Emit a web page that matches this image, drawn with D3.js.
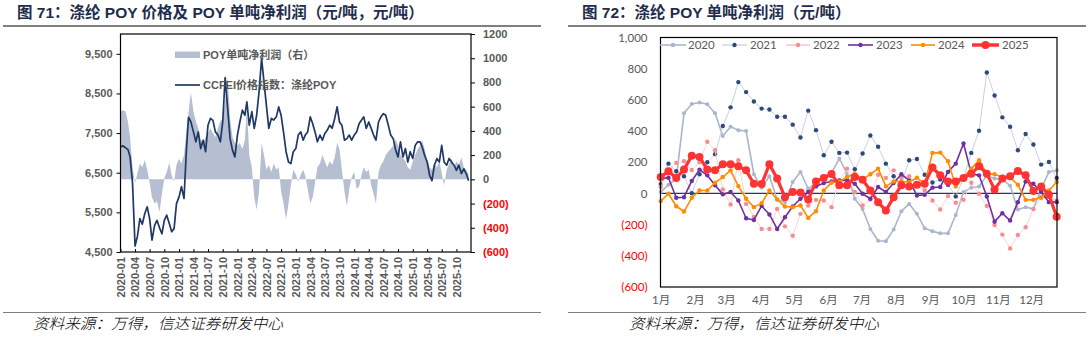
<!DOCTYPE html>
<html><head><meta charset="utf-8">
<script src="https://cdn.jsdelivr.net/npm/d3@7/dist/d3.min.js"></script>
<style>
body{margin:0;background:#fff;}
svg{display:block;}
text{font-family:"Liberation Sans","Noto Sans CJK SC",sans-serif;}
</style></head><body>
<svg id="c" width="1088" height="337"></svg>
<script>
// ---------- Figure 71 data (semi-monthly samples, 2020-01 .. 2025-12) ----------
const priceValues = [7150,7180,7130,7090,6900,6250,4650,4900,5340,5200,5470,5640,5340,4800,5170,5300,5110,4960,5300,5430,5220,5010,5090,5720,5890,6150,5850,7070,7900,7780,7530,7280,7530,7110,7320,7030,7700,7870,7820,7530,7450,7280,7780,8900,8120,7360,7070,6900,7450,7780,8080,7950,8290,7700,8040,7620,7950,8540,9380,8790,8200,7620,7870,7830,7910,8160,7950,7530,7030,6770,6730,7030,7110,7450,7530,7320,7450,7530,7910,7740,7530,7280,7450,7320,7490,7570,7700,7620,7870,8160,7780,7700,7320,7360,7450,7320,7450,7530,7740,7830,7910,7620,7780,7620,7450,7320,7780,7910,7990,7950,7700,7450,7360,7070,6900,7280,6900,7110,6770,7030,6860,7190,7280,7280,7150,6940,6770,6440,6300,6690,6860,6770,7190,6770,6690,6860,6770,6690,6560,6690,6480,6600,6480,6300];
const profitValues = [560,570,560,480,350,100,-30,50,130,100,160,80,-30,-150,-200,-180,-270,-120,10,60,140,30,-20,120,170,130,200,400,550,720,560,480,420,330,300,350,380,420,380,350,420,480,500,640,850,500,350,300,280,300,250,320,600,200,100,-150,-250,-100,300,200,80,120,60,130,80,100,-100,-200,-330,-200,-50,80,40,-20,40,80,30,-80,-200,-150,-30,100,130,200,150,100,150,120,180,300,250,80,-100,-220,-80,20,60,-80,-60,40,100,60,80,-50,-120,-200,60,120,150,200,230,250,280,330,280,200,180,150,100,80,150,200,250,280,320,250,160,100,80,130,100,150,50,-50,80,130,170,100,150,120,180,100,80,40];
// sample dates: 1st and 16th of each month starting 2020-01
const priceDates = priceValues.map((_, k) => new Date(2020, Math.floor(k / 2), k % 2 ? 16 : 1));
const leftTicks = [4500, 5500, 6500, 7500, 8500, 9500];
const rightTicks = [-600, -400, -200, 0, 200, 400, 600, 800, 1000, 1200];

// ---------- Figure 72 data (weekly, 52 points per year) ----------
const years = ["2020", "2021", "2022", "2023", "2024", "2025"];
const y2020 = [9,55,95,514,574,583,572,514,368,428,406,400,123,37,110,-39,-56,73,138,30,70,110,130,224,127,-34,-100,-228,-303,-307,-232,-114,-67,-131,-224,-243,-256,-256,-138,9,37,45,116,95,90,50,-103,-88,-99,30,138,148];
const y2021 = [60,191,142,110,2,123,200,252,432,552,714,650,590,544,538,492,492,441,359,531,406,245,331,260,262,155,256,372,299,191,110,60,213,221,120,70,90,56,-19,100,260,402,776,628,488,428,277,381,314,185,202,99];
const y2022 = [41,150,196,206,150,200,331,277,26,-71,213,-67,-150,-228,-228,-99,-211,-271,-131,-77,-41,-45,-88,84,159,9,-77,-39,120,99,148,100,110,60,20,-45,-103,-17,-60,-41,69,-2,-80,-202,-264,-353,-267,-217,-100,-30,-20,-45];
const y2023 = [95,101,-28,-24,80,153,116,52,-6,9,-45,-159,-170,-80,-135,-228,-153,-84,-34,9,45,67,77,84,84,62,-2,-34,41,9,67,123,84,-13,-9,37,41,138,191,320,127,116,-20,-181,-127,-174,-56,77,62,9,-56,-56];
const y2024 = [-49,-2,-82,-116,-28,19,19,69,105,148,47,-34,-88,-62,19,-39,-84,-88,-77,-157,-114,19,69,77,105,127,90,123,159,45,77,77,73,101,62,260,262,206,45,105,159,213,127,123,105,101,56,-41,-41,-24,19,73];
const y2025 = [105,142,99,153,241,234,153,148,187,187,174,148,62,60,187,95,-24,9,6,-39,77,99,125,52,52,105,88,19,-56,-110,-24,52,45,56,62,166,116,77,77,99,127,174,127,26,95,110,144,116,15,45,-9,-150];
const yearValues = [y2020, y2021, y2022, y2023, y2024, y2025];
const weekDates = y2025.map((_, i) => new Date(2025, 0, 1 + 7 * i));
const rTicks72 = [-600, -400, -200, 0, 200, 400, 600, 800, 1000];

const styles = [
  {line: "#aab6cc", lw: 1.6, dot: "#aab6cc", r: 2},
  {line: "#c9d1df", lw: 1, dot: "#2f4a7a", r: 2.2},
  {line: "#fbd3d6", lw: 1, dot: "#f78d93", r: 2.2},
  {line: "#7030a0", lw: 1.6, dot: "#7030a0", r: 2.2},
  {line: "#ff8c00", lw: 1.6, dot: "#ff8c00", r: 2.2},
  {line: "#ff3333", lw: 3.2, dot: "#ff3333", r: 4}
];

const svg = d3.select("#c");
const GRAY = "#595959", RED = "#ff0000", NAVY = "#1f3864", AREA = "#b5bfd1";

// ---------- header / footer decorations ----------
function frame(x0, x1, title, srcX) {
  svg.append("text").attr("x", x0 + 2).attr("y", 18).attr("font-size", 15.5).attr("font-weight", "bold")
    .attr("fill", "#1f2d4d").text(title);
  svg.append("line").attr("x1", x0 - 12).attr("x2", x1).attr("y1", 26).attr("y2", 26)
    .attr("stroke", "#7f7f7f").attr("stroke-width", 2);
  svg.append("line").attr("x1", x0 - 12).attr("x2", x1).attr("y1", 312.5).attr("y2", 312.5)
    .attr("stroke", "#7f7f7f").attr("stroke-width", 1);
  svg.append("text").attr("x", srcX).attr("y", 329).attr("font-size", 15).attr("font-style", "italic")
    .attr("fill", "#000").attr("textLength", 250).attr("lengthAdjust", "spacingAndGlyphs")
    .style("font-family", "'Noto Sans CJK SC',sans-serif").style("font-weight", 300)
    .text("资料来源：万得，信达证券研发中心");
}
frame(15, 541, "图 71：涤纶 POY 价格及 POY 单吨净利润（元/吨，元/吨）", 33);
frame(580, 1086, "图 72：涤纶 POY 单吨净利润（元/吨）", 629);

// ---------- Figure 71 ----------
{
  const L = 120.5, R = 471, T = 34, B = 252;
  const x = d3.scaleTime().domain([new Date(2020, 0, 1), new Date(2025, 11, 31)]).range([L, R]);
  const yL = d3.scaleLinear().domain([4500, 10000]).range([B, T]);
  const yR = d3.scaleLinear().domain([-600, 1200]).range([B, T]);

  const area = d3.area().x((d, i) => x(priceDates[i])).y0(yR(0)).y1(d => yR(d));
  svg.append("path").datum(profitValues).attr("d", area).attr("fill", AREA);

  const line = d3.line().x((d, i) => x(priceDates[i])).y(d => yL(d));
  svg.append("path").datum(priceValues).attr("d", line).attr("fill", "none")
    .attr("stroke", NAVY).attr("stroke-width", 1.7).attr("stroke-linejoin", "round");

  svg.append("rect").attr("x", L).attr("y", T).attr("width", R - L).attr("height", B - T)
    .attr("fill", "none").attr("stroke", "#000").attr("stroke-width", 1.2);

  // left axis
  const gl = svg.append("g").attr("transform", `translate(${L},0)`)
    .call(d3.axisLeft(yL).tickValues(leftTicks).tickFormat(d3.format(",")).tickSize(4).tickPadding(4));
  gl.select(".domain").remove();
  gl.selectAll("line").attr("stroke", "#000");
  gl.selectAll("text").attr("font-size", 11).attr("font-weight", "bold").attr("fill", GRAY)
    .style("font-family", "'Liberation Sans',sans-serif");

  // right axis
  const gr = svg.append("g").attr("transform", `translate(${R},0)`)
    .call(d3.axisRight(yR).tickValues(rightTicks).tickFormat(d => d < 0 ? `(${-d})` : d).tickSize(4).tickPadding(8));
  gr.select(".domain").remove();
  gr.selectAll("line").attr("stroke", "#000");
  gr.selectAll("text").attr("font-size", 11).attr("font-weight", "bold")
    .attr("fill", d => d < 0 ? RED : GRAY).style("font-family", "'Liberation Sans',sans-serif");

  // x axis
  const gx = svg.append("g").attr("transform", `translate(0,${B})`)
    .call(d3.axisBottom(x).ticks(d3.timeMonth.every(3)).tickFormat(d3.timeFormat("%Y-%m")).tickSize(-3));
  gx.select(".domain").remove();
  gx.selectAll("line").attr("stroke", "#000");
  gx.selectAll("text").attr("font-size", 11).attr("font-weight", "bold").attr("fill", GRAY)
    .style("font-family", "'Liberation Sans',sans-serif")
    .attr("text-anchor", "end").attr("transform", "rotate(-90)")
    .attr("x", -5).attr("y", 0).attr("dy", "0.35em");

  // legend
  svg.append("rect").attr("x", 175).attr("y", 51.5).attr("width", 25).attr("height", 6.5).attr("fill", AREA);
  svg.append("text").attr("x", 203).attr("y", 58.5).attr("font-size", 11).attr("font-weight", "bold")
    .attr("fill", GRAY).text("POY单吨净利润（右）");
  svg.append("line").attr("x1", 175).attr("x2", 200).attr("y1", 85).attr("y2", 85)
    .attr("stroke", NAVY).attr("stroke-width", 1.7);
  svg.append("text").attr("x", 203).attr("y", 89).attr("font-size", 11).attr("font-weight", "bold")
    .attr("fill", GRAY).text("CCFEI价格指数：涤纶POY");
}

// ---------- Figure 72 ----------
{
  const L = 660.5, R = 1057, T = 37.5, B = 287;
  const x = d3.scaleTime().domain([weekDates[0], weekDates[weekDates.length - 1]]).range([660.7, 1056.7]);
  const y = d3.scaleLinear().domain([-600, 1000]).range([B, T]);
  const FONT = "'Lato','Liberation Sans',sans-serif";

  // y labels
  const gy = svg.append("g").attr("transform", `translate(${L},0)`)
    .call(d3.axisLeft(y).tickValues(rTicks72).tickFormat(d => d < 0 ? `(${-d})` : d3.format(",")(d)).tickSize(0).tickPadding(13));
  gy.select(".domain").remove();
  gy.selectAll("text").attr("font-size", 11.5).attr("fill", d => d < 0 ? RED : GRAY).style("font-family", FONT);

  // x labels
  const gx = svg.append("g").attr("transform", `translate(0,${B})`)
    .call(d3.axisBottom(x).ticks(d3.timeMonth.every(1)).tickFormat(d => (d.getMonth() + 1) + "月").tickSize(0).tickPadding(9));
  gx.select(".domain").remove();
  gx.selectAll("text").attr("font-size", 11.5).attr("fill", GRAY)
    .style("font-family", "'Lato','Noto Sans CJK SC',sans-serif");

  // zero line
  svg.append("line").attr("x1", L).attr("x2", R).attr("y1", y(0)).attr("y2", y(0))
    .attr("stroke", NAVY).attr("stroke-width", 1.3);

  const line = d3.line().x((d, i) => x(weekDates[i])).y(d => y(d));
  yearValues.forEach((vals, s) => {
    const st = styles[s];
    svg.append("path").datum(vals).attr("d", line).attr("fill", "none")
      .attr("stroke", st.line).attr("stroke-width", st.lw).attr("stroke-linejoin", "round");
    svg.append("g").selectAll("circle").data(vals).join("circle")
      .attr("cx", (d, i) => x(weekDates[i])).attr("cy", d => y(d)).attr("r", st.r).attr("fill", st.dot);
  });

  svg.append("rect").attr("x", L).attr("y", T).attr("width", R - L).attr("height", B - T)
    .attr("fill", "none").attr("stroke", "#000").attr("stroke-width", 1.2);

  // legend
  const legX = [[660, 686, 688], [722, 747, 750], [786, 810, 813], [848, 873, 876], [911, 935, 938], [972, 999, 1002]];
  years.forEach((yr, s) => {
    const st = styles[s];
    const [a, b, tx] = legX[s];
    svg.append("line").attr("x1", a).attr("x2", b).attr("y1", 45).attr("y2", 45)
      .attr("stroke", s === 1 ? "#dde3ec" : st.line).attr("stroke-width", s === 5 ? 3.5 : (s === 1 || s === 2 ? 2 : st.lw));
    svg.append("circle").attr("cx", (a + b) / 2).attr("cy", 45).attr("r", s === 5 ? 4 : 2.2).attr("fill", st.dot);
    svg.append("text").attr("x", tx).attr("y", 49).attr("font-size", 11.5).attr("fill", GRAY)
      .style("font-family", FONT).text(yr);
  });
}
</script>
</body></html>
